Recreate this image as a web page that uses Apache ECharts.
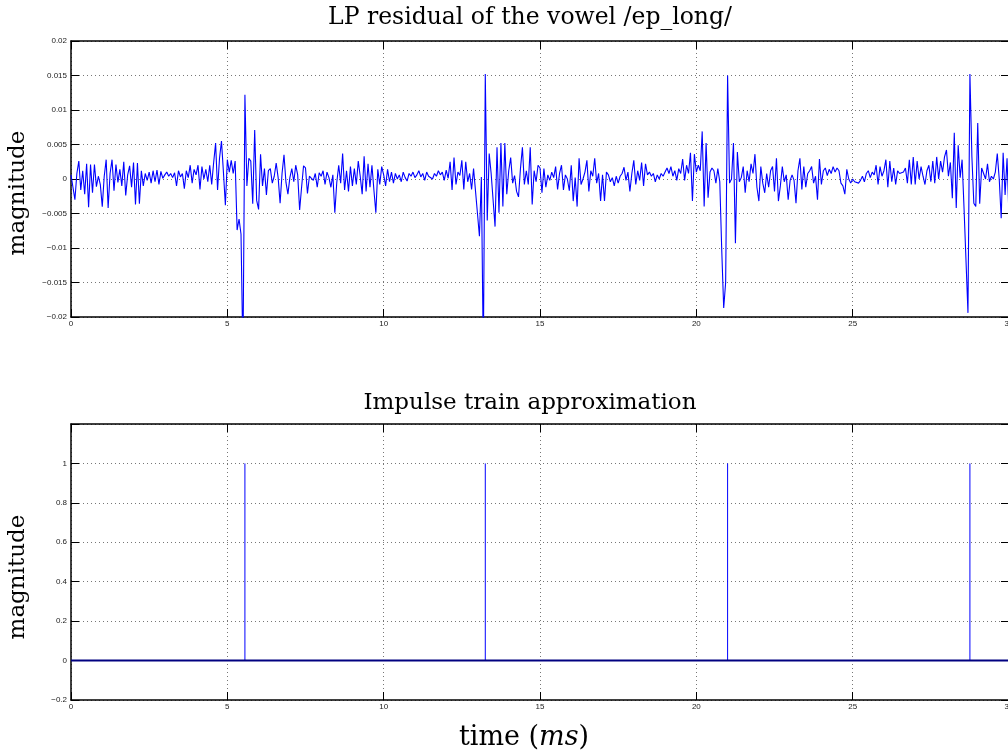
<!DOCTYPE html>
<html>
<head>
<meta charset="utf-8">
<script src="https://cdn.jsdelivr.net/npm/echarts@6/dist/echarts.min.js"></script>
<style>
html,body{margin:0;padding:0;background:#fff;}
#chart{width:1008px;height:754px;}
</style>
</head>
<body>
<div id="chart"></div>
<script>
// ---- data ----
const sampleRateKHz = 16; // samples per ms
const residual = [
 0.0006,-0.0012,-0.0030,0.0008,0.0026,-0.0016,0.0012,-0.0022,0.0022,-0.0041,0.0021,-0.0020,0.0021,-0.0011,0.0004,-0.0008,
 -0.0040,0.0004,0.0028,-0.0042,0.0008,0.0028,-0.0017,0.0021,-0.0005,0.0014,-0.0010,0.0025,-0.0024,0.0006,0.0019,-0.0012,
 0.0024,-0.0037,0.0023,-0.0036,0.0012,-0.0010,0.0008,-0.0002,0.0010,-0.0006,0.0012,-0.0004,0.0013,-0.0008,0.0011,0.0001,
 0.0006,0.0010,0.0004,0.0008,0.0002,0.0009,-0.0010,0.0012,0.0003,0.0008,-0.0014,0.0012,0.0002,0.0020,-0.0006,0.0014,
 0.0006,0.0020,-0.0015,0.0018,0.0000,0.0014,-0.0004,0.0020,-0.0008,0.0024,0.0052,-0.0016,0.0030,0.0055,0.0010,-0.0038,
 0.0028,0.0010,0.0027,0.0008,0.0026,-0.0074,-0.0058,-0.0080,-0.0260,0.0122,-0.0010,0.0030,0.0026,-0.0036,0.0071,-0.0031,
 -0.0044,0.0036,-0.0010,0.0015,-0.0023,0.0012,0.0015,-0.0006,0.0004,0.0023,0.0002,-0.0035,0.0008,0.0035,-0.0005,-0.0022,
 0.0002,0.0015,-0.0004,0.0020,0.0006,-0.0045,-0.0012,0.0019,0.0016,-0.0021,0.0004,0.0006,-0.0002,0.0008,-0.0012,0.0009,
 0.0004,0.0012,-0.0008,0.0010,0.0002,-0.0012,0.0006,-0.0049,-0.0005,0.0020,-0.0006,0.0037,-0.0016,0.0012,-0.0018,0.0018,
 -0.0010,0.0015,-0.0008,0.0026,0.0004,-0.0022,0.0033,-0.0018,0.0022,-0.0012,0.0020,-0.0016,-0.0049,0.0014,-0.0008,0.0018,
 0.0006,-0.0010,0.0014,-0.0004,0.0010,-0.0006,0.0008,0.0000,0.0006,-0.0004,0.0010,0.0002,-0.0003,0.0008,0.0004,0.0010,
 0.0002,0.0006,0.0012,0.0003,0.0008,-0.0002,0.0010,0.0004,0.0006,0.0000,0.0008,0.0004,0.0012,0.0006,0.0010,-0.0002,
 0.0013,0.0001,0.0025,-0.0016,0.0031,-0.0008,0.0010,0.0005,0.0027,-0.0015,0.0025,-0.0004,0.0008,-0.0015,0.0015,0.0016,
 -0.0050,-0.0083,0.0003,-0.0260,0.0152,-0.0060,0.0037,0.0008,0.0010,-0.0069,0.0046,-0.0049,0.0052,-0.0040,0.0052,-0.0022,
 0.0012,0.0031,-0.0006,0.0005,-0.0018,-0.0026,0.0015,0.0046,-0.0008,0.0012,-0.0008,0.0046,-0.0037,0.0012,-0.0004,0.0020,
 0.0016,-0.0020,0.0015,-0.0012,0.0006,-0.0002,0.0010,0.0002,0.0018,-0.0015,0.0008,0.0020,-0.0016,0.0006,0.0000,-0.0017,
 0.0020,-0.0032,0.0002,-0.0040,0.0030,-0.0008,0.0000,0.0010,0.0027,-0.0018,0.0012,0.0004,0.0030,-0.0006,0.0008,-0.0032,
 0.0006,-0.0032,0.0010,0.0006,-0.0004,0.0002,-0.0010,0.0004,-0.0006,0.0004,0.0008,0.0017,-0.0002,0.0010,-0.0018,0.0008,
 0.0027,-0.0008,0.0012,-0.0002,0.0024,-0.0010,0.0022,0.0006,0.0010,0.0004,0.0008,-0.0004,0.0006,0.0000,0.0008,0.0004,
 0.0010,0.0016,0.0008,0.0018,0.0004,0.0012,-0.0002,0.0015,0.0008,0.0029,-0.0002,0.0020,0.0008,0.0038,-0.0032,0.0036,
 0.0010,0.0020,0.0012,0.0069,-0.0040,0.0052,-0.0027,0.0010,0.0016,0.0012,-0.0006,0.0015,-0.0004,-0.0103,-0.0187,-0.0150,
 0.0150,-0.0006,0.0000,0.0052,-0.0093,0.0039,-0.0004,0.0002,0.0018,-0.0020,0.0012,-0.0004,0.0022,0.0008,0.0036,-0.0012,
 -0.0032,0.0018,-0.0006,-0.0020,0.0008,-0.0012,0.0012,0.0018,-0.0018,0.0030,-0.0032,-0.0010,0.0018,-0.0004,0.0006,-0.0030,
 -0.0002,0.0006,-0.0002,-0.0035,0.0012,0.0030,-0.0015,0.0018,-0.0012,0.0008,0.0012,0.0018,-0.0006,0.0004,-0.0030,0.0029,
 -0.0008,0.0012,0.0016,0.0005,0.0014,0.0008,0.0018,0.0010,0.0016,0.0012,-0.0006,-0.0010,-0.0022,0.0014,0.0000,-0.0006,
 0.0000,-0.0004,-0.0002,-0.0006,-0.0002,0.0004,-0.0004,0.0008,0.0012,0.0002,0.0010,0.0006,0.0020,-0.0008,0.0018,0.0004,
 0.0012,0.0028,-0.0012,0.0026,-0.0004,0.0016,-0.0008,0.0012,0.0008,0.0006,0.0010,0.0016,-0.0006,0.0028,-0.0008,0.0032,
 -0.0008,0.0026,0.0000,0.0018,0.0004,-0.0008,0.0012,0.0020,-0.0004,0.0026,-0.0006,0.0032,0.0000,0.0026,0.0010,0.0032,
 0.0042,0.0004,0.0024,-0.0028,0.0067,-0.0042,0.0049,0.0002,0.0028,-0.0043,-0.0045,-0.0194,0.0152,0.0033,-0.0035,-0.0040,
 0.0081,-0.0036,0.0016,0.0018,0.0000,0.0022,-0.0004,0.0004,0.0000,0.0010,0.0037,0.0000,-0.0057,0.0038,-0.0023,0.0030,
 -0.0055
];
const impulseTimes = [5.5625, 13.25, 21.0, 28.75];   // ms
const impulseHeights = [1, 1, 1, 1];
const timeRange = [0, 30];
const xTickStep = 5;
const residualRange = [-0.02, 0.02];
const residualTickStep = 0.005;
const impulseRange = [-0.2, 1.2];
const impulseTickStep = 0.2;
const titles = ['LP residual of the vowel /ep_long/', 'Impulse train approximation'];
const yLabel = 'magnitude';

// ---- build series data ----
const residualPts = residual.map((v, i) => [i / sampleRateKHz, v]);
const stemPts = [];
impulseTimes.forEach((t, i) => { stemPts.push([t, 0], [t, impulseHeights[i]], '-'); });
const baselinePts = [[timeRange[0], 0], [timeRange[1], 0]];

const fmt = (v) => {
  const r = parseFloat(v.toFixed(4));
  if (Math.abs(r) < 1e-9) return '0';
  return (r < 0 ? '\u2212' : '') + String(Math.abs(r));
};

const tickFont = {fontSize: 8, color: '#222', fontFamily: '"Liberation Sans", Arial, sans-serif'};
const boxLine = {show: true, onZero: false, lineStyle: {color: '#000', width: 1.5}};
const gridDot = {show: true, lineStyle: {color: '#777', width: 1, type: [1, 3]}};

function xAxes(gi) {
  return [
    {gridIndex: gi, type: 'value', position: 'bottom', min: timeRange[0], max: timeRange[1], interval: xTickStep,
     axisLine: boxLine, axisTick: {show: true, inside: true, length: 8, lineStyle: {color: '#000', width: 1}},
     axisLabel: Object.assign({margin: 3, formatter: fmt}, tickFont), splitLine: gridDot},
    {gridIndex: gi, type: 'value', position: 'top', min: timeRange[0], max: timeRange[1], interval: xTickStep,
     axisLine: boxLine, axisTick: {show: true, inside: true, length: 8, lineStyle: {color: '#000', width: 1}},
     axisLabel: {show: false}, splitLine: {show: false}}
  ];
}
function yAxes(gi, range, step, hideAbove) {
  const f = (v) => (hideAbove !== undefined && v > hideAbove + 1e-9) ? '' : fmt(v);
  return [
    {gridIndex: gi, type: 'value', position: 'left', min: range[0], max: range[1], interval: step,
     axisLine: boxLine, axisTick: {show: true, inside: true, length: 8, lineStyle: {color: '#000', width: 1}},
     axisLabel: Object.assign({margin: 4, formatter: f}, tickFont), splitLine: gridDot},
    {gridIndex: gi, type: 'value', position: 'right', min: range[0], max: range[1], interval: step,
     axisLine: boxLine, axisTick: {show: true, inside: true, length: 8, lineStyle: {color: '#000', width: 1}},
     axisLabel: {show: false}, splitLine: {show: false}}
  ];
}

const serif = '"DejaVu Serif", "Liberation Serif", serif';
const chart = echarts.init(document.getElementById('chart'), null, {renderer: 'canvas'});
chart.setOption({
  animation: false,
  backgroundColor: '#fff',
  grid: [
    {left: 71, top: 41, width: 938, height: 276, containLabel: false, outerBoundsMode: 'none'},
    {left: 71, top: 424, width: 938, height: 276, containLabel: false, outerBoundsMode: 'none'}
  ],
  xAxis: xAxes(0).concat(xAxes(1)),
  yAxis: yAxes(0, residualRange, residualTickStep).concat(yAxes(1, impulseRange, impulseTickStep, 1)),
  series: [
    {type: 'line', xAxisIndex: 0, yAxisIndex: 0, data: residualPts, showSymbol: false, symbol: 'none',
     lineStyle: {color: '#0000ff', width: 1.1}, clip: true},
    {type: 'line', xAxisIndex: 2, yAxisIndex: 2, data: stemPts, showSymbol: false, symbol: 'none',
     connectNulls: false, lineStyle: {color: '#0000ff', width: 1}},
    {type: 'line', xAxisIndex: 2, yAxisIndex: 2, data: baselinePts, showSymbol: false, symbol: 'none',
     lineStyle: {color: '#000080', width: 2}}
  ],
  graphic: [
    {id: 't0', type: 'text', x: 530, y: 18, style: {text: titles[0], font: '23.5px ' + serif, fill: '#000', align: 'center', verticalAlign: 'middle'}},
    {id: 't1', type: 'text', x: 530, y: 403, style: {text: titles[1], font: '23px ' + serif, fill: '#000', align: 'center', verticalAlign: 'middle'}},
    {id: 'y0', type: 'text', x: 18, y: 193, rotation: Math.PI / 2, style: {text: yLabel, font: '23px ' + serif, fill: '#000', align: 'center', verticalAlign: 'middle'}},
    {id: 'y1', type: 'text', x: 18, y: 577, rotation: Math.PI / 2, style: {text: yLabel, font: '23px ' + serif, fill: '#000', align: 'center', verticalAlign: 'middle'}},
    {id: 'xl', type: 'text', x: 524, y: 738, style: {text: 'time ({it|ms})', font: '27px ' + serif, fill: '#000', align: 'center', verticalAlign: 'middle',
      rich: {it: {fontStyle: 'italic', fontSize: 27, fontFamily: serif}}}}
  ]
});
</script>
</body>
</html>
